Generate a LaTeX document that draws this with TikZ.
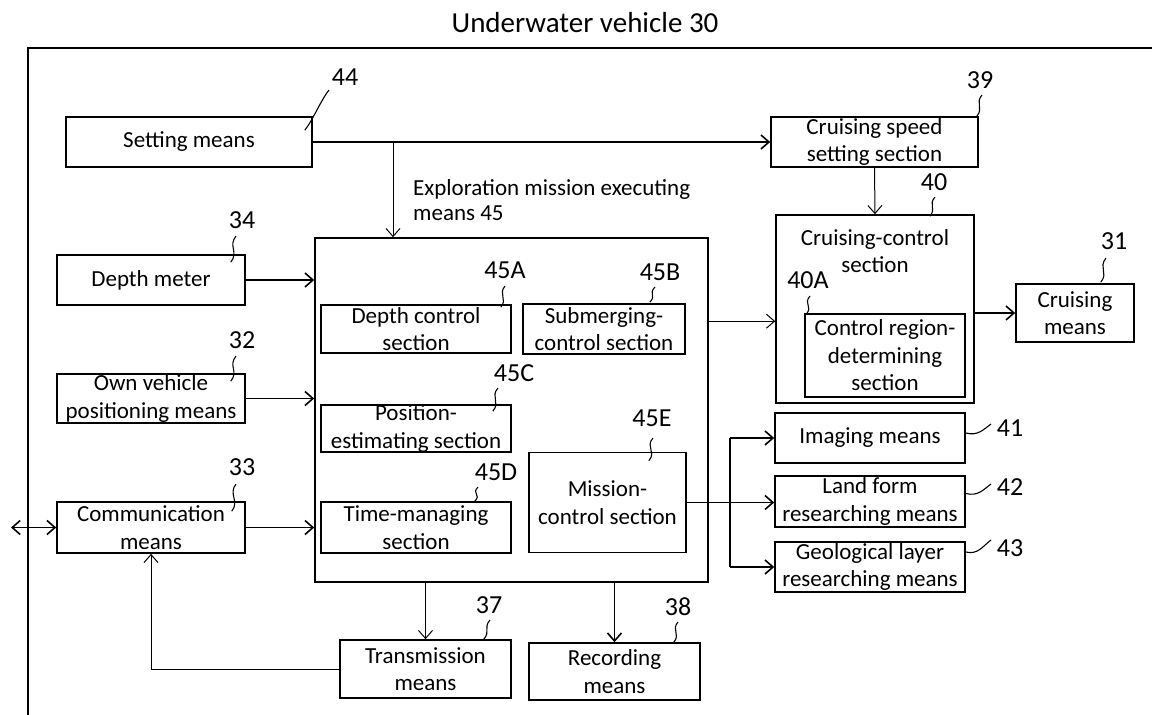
\documentclass[tikz,border=0pt]{standalone}
\usepackage{fontspec}
\setmainfont{Carlito}
\usepackage{tikz}
\usetikzlibrary{arrows.meta,calc,positioning}

\newcommand{\boxfont}{\fontsize{23}{27.5}\selectfont}
\newcommand{\numfont}{\fontsize{26}{30}\selectfont}

\begin{document}
\begin{tikzpicture}[
  x=1pt, y=-1pt,
  >={Straight Barb[length=8pt,width=14pt]},
  blk/.style n args={2}{draw, line width=1.6pt, inner xsep=0pt, inner ysep=-3pt,
    align=center, font=\boxfont, minimum width=#1pt, minimum height=#2pt},
  thk/.style={->, line width=1.6pt},
  thn/.style={->, line width=1pt},
  leader/.style={line width=1.1pt},
  refnum/.style={font=\numfont, inner sep=0pt}]

\useasboundingbox (0,0) rectangle (1152,715);
\fill[white] (0,0) rectangle (1152,715);

% --- Title and vehicle frame ---
\node[font=\fontsize{29}{34}\selectfont] (title) at (585,23) {Underwater vehicle 30};
\draw[line width=1.3pt] (1152,48) -- (28,48) -- (28,715);

% --- Blocks ---
\node[blk={246}{50}] (setting) at (189,142) {Setting means};
\node[blk={207}{50}] (spd) at (874.5,142) {Cruising speed\\setting section};
\node[blk={393}{344}] (exec) at (511.5,410) {};
\node[anchor=west, align=left, inner sep=0pt, font=\fontsize{23}{25}\selectfont]
  (exlbl) at (413,200) {Exploration mission executing\\means 45};
\node[blk={198}{188}] (cctrl) at (875,309) {};
\node[font=\boxfont, align=center, inner sep=0pt] (cctrltxt) at (875,251)
  {Cruising-control\\section};
\node[blk={160}{83}] (creg) at (885,355.5) {Control region-\\determining\\section};
\node[blk={118}{58}] (cmeans) at (1075,313) {Cruising\\means};
\node[blk={188}{50}] (depth) at (151,280) {Depth meter};
\node[blk={188}{49}] (ownpos) at (151,398.5) {Own vehicle\\positioning means};
\node[blk={188}{51}] (comm) at (151,527.5) {Communication\\means};
\node[blk={190}{48}] (dctrl) at (416,329) {Depth control\\section};
\node[blk={162}{50}] (sctrl) at (604,329) {Submerging-\\control section};
\node[blk={190}{47}] (pest) at (416,428.5) {Position-\\estimating section};
\node[blk={190}{51}] (tman) at (416,527.5) {Time-managing\\section};
\node[blk={157}{100}] (mctrl) at (607.5,502.5) {Mission-\\control section};
\node[blk={190}{50}] (img) at (870,438) {Imaging means};
\node[blk={190}{51}] (land) at (870,501.5) {Land form\\researching means};
\node[blk={190}{50}] (geo) at (870,567) {Geological layer\\researching means};
\node[blk={171}{58}] (trans) at (425.5,669) {Transmission\\means};
\node[blk={171}{57}] (rec) at (614.5,671.5) {Recording\\means};

% --- Reference numerals ---
\node[refnum] (n44) at (345,77) {44};
\node[refnum] (n39) at (980,80) {39};
\node[refnum] (n40) at (934,182) {40};
\node[refnum] (n34) at (242,220) {34};
\node[refnum] (n32) at (242,340) {32};
\node[refnum] (n33) at (242,467) {33};
\node[refnum] (n45A) at (505,270) {45A};
\node[refnum] (n45B) at (660,272) {45B};
\node[refnum] (n45C) at (514,373) {45C};
\node[refnum] (n45D) at (496,472) {45D};
\node[refnum] (n45E) at (652,418) {45E};
\node[refnum] (n40A) at (808,280) {40A};
\node[refnum] (n31) at (1114,241) {31};
\node[refnum] (n37) at (489,605) {37};
\node[refnum] (n38) at (678,607) {38};
\node[refnum] (n41) at (1010,428) {41};
\node[refnum] (n42) at (1010,487) {42};
\node[refnum] (n43) at (1010,548) {43};

% --- Leader squiggles ---
\draw[leader] ($(setting.north east)+(-8,14)$) .. controls +(8,-10) and +(-8,10) .. ($(n44)+(-16,13)$);
\draw[leader] ($(spd.north east)+(-2,0)$) .. controls +(7,-8) and +(-7,8) .. ($(n39)+(2,15)$);
\draw[leader] ($(cctrl.north east)+(-45,2)$) .. controls +(7,-8) and +(-7,8) .. ($(n40)+(1,15)$);
\draw[leader] ($(depth.north east)+(-15,8)$) .. controls +(8,-10) and +(-8,10) .. ($(n34)+(-6,16)$);
\draw[leader] ($(ownpos.north east)+(-15,8)$) .. controls +(8,-10) and +(-8,10) .. ($(n32)+(-6,16)$);
\draw[leader] ($(comm.north east)+(-14,10)$) .. controls +(8,-10) and +(-8,10) .. ($(n33)+(-6,17)$);
\draw[leader] ($(dctrl.north east)+(-11,3)$) .. controls +(7,-8) and +(-7,8) .. ($(n45A)+(0,16)$);
\draw[leader] ($(sctrl.north east)+(-36,-1)$) .. controls +(7,-7) and +(-7,7) .. ($(n45B)+(-5,15)$);
\draw[leader] ($(pest.north east)+(-19,7)$) .. controls +(8,-9) and +(-8,9) .. ($(n45C)+(-16,15)$);
\draw[leader] ($(tman.north east)+(-37,0)$) .. controls +(7,-7) and +(-7,7) .. ($(n45D)+(-18,15)$);
\draw[leader] ($(mctrl.north east)+(-38,9)$) .. controls +(8,-9) and +(-8,9) .. ($(n45E)+(1,20)$);
\draw[leader] ($(creg.north west)+(2,1)$) .. controls +(7,-8) and +(-7,8) .. ($(n40A)+(2,16)$);
\draw[leader] ($(cmeans.north east)+(-34,-1)$) .. controls +(8,-10) and +(-8,10) .. ($(n31)+(-8,17)$);
\draw[leader] ($(trans.north east)+(-28,0)$) .. controls +(7,-8) and +(-7,8) .. ($(n37)+(1,15)$);
\draw[leader] ($(rec.north east)+(-27,0)$) .. controls +(7,-8) and +(-7,8) .. ($(n38)+(0,15)$);
\draw[leader] ($(img.east)+(0,-5)$) .. controls +(12,3) and +(-8,6) .. ($(n41)+(-19,-4)$);
\draw[leader] ($(land.east)+(0,-8)$) .. controls +(12,3) and +(-8,6) .. ($(n42)+(-19,-3)$);
\draw[leader] ($(geo.east)+(0,-15)$) .. controls +(12,3) and +(-8,6) .. ($(n43)+(-19,-8)$);

% --- Connectors ---
\draw[thk] (setting.east) -- (spd.west);
\coordinate (br1) at (393,142);
\draw[thn] (br1) -- (br1 |- exec.north);
\draw[thn] (spd.south) -- (cctrl.north);
\draw[thk] (depth.east) -- (depth.east -| exec.west);
\draw[thk] (ownpos.east) -- (ownpos.east -| exec.west);
\draw[thk] (comm.east) -- (comm.east -| exec.west);
\coordinate (ext) at (11,527.5);
\draw[thk,<->] (ext) -- (comm.west);
\draw[thn] ([yshift=-84pt]exec.north east) coordinate (e1) -- (e1 -| cctrl.west);
\draw[thk] (cmeans.west -| cctrl.east) -- (cmeans.west);
\draw[thk] (mctrl.east) -- (mctrl.east -| land.west);
\coordinate (br2) at (730,0);
\draw[line width=1.6pt] (br2 |- img.west) -- (br2 |- geo.west);
\draw[thk] (br2 |- img.west) -- (img.west);
\draw[thk] (br2 |- geo.west) -- (geo.west);
\draw[thn] (exec.south -| trans.north) -- (trans.north);
\draw[thk] (exec.south -| rec.north) -- (rec.north);
\draw[thn] (trans.west) -| (comm.south);

\end{tikzpicture}
\end{document}
